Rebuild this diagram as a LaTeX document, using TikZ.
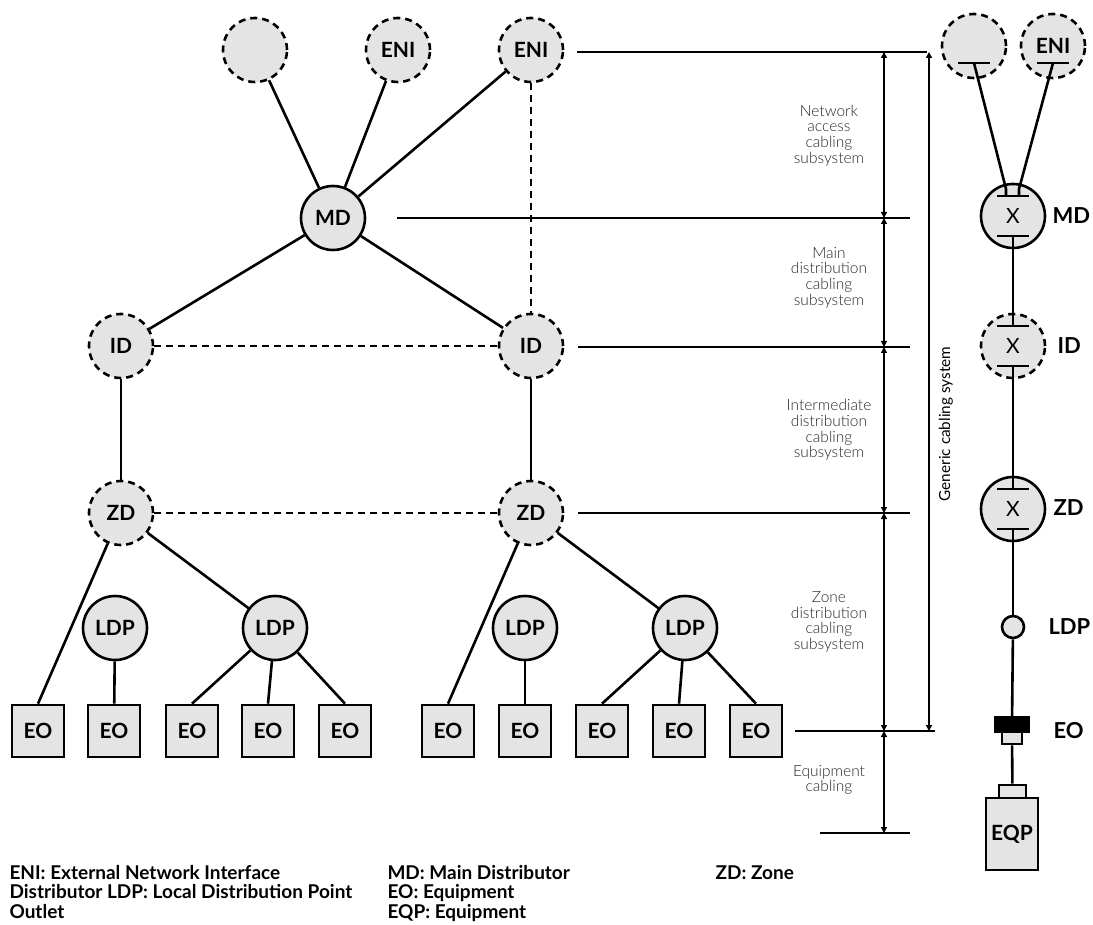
\documentclass[tikz,border=0pt]{standalone}
\usepackage{fontspec}
\setmainfont{Lato}
\newfontfamily\lightfont{Lato Light}
\usetikzlibrary{arrows.meta,calc}

\definecolor{boxgray}{HTML}{E3E4E3}
\definecolor{dimgray}{HTML}{262626}

\tikzset{
  dist/.style={circle, draw, line width=2.6pt, fill=boxgray, minimum size=64pt, inner sep=0pt,
               font=\bfseries\fontsize{21}{22}\selectfont},
  opt/.style={dist, dash pattern=on 7pt off 5pt},
  outlet/.style={draw, line width=2.6pt, fill=boxgray, minimum size=52pt, inner sep=0pt,
               font=\bfseries\fontsize{21}{22}\selectfont},
  link/.style={line width=2.6pt},
  optlink/.style={line width=2.6pt, dash pattern=on 7pt off 5pt},
  refline/.style={line width=1.4pt},
  bar/.style={line width=2.6pt},
  dimarrow/.style={line width=2pt, {Triangle[length=6pt,width=6pt]}-{Triangle[length=6pt,width=6pt]}},
  dimtext/.style={align=center, text=dimgray, font=\lightfont\fontsize{15.5}{15.7}\selectfont},
  sidetext/.style={anchor=west, font=\bfseries\fontsize{22}{24}\selectfont},
  legend/.style={anchor=base west, align=left, font=\bfseries\fontsize{19}{19.5}\selectfont},
}

\begin{document}
\begin{tikzpicture}[x=1pt, y=-1pt]
  \useasboundingbox (0,0) rectangle (1093,925);

  %distributors
  \node[opt] (ext) at (255,50) {};
  \node[opt] (eniA) at (398,50) {ENI};
  \node[opt] (eniB) at (531,50) {ENI};
  \node[dist] (md) at (333,218) {MD};
  \foreach \x/\name in {121/L, 531/R}{
    \node[opt] (id\name) at (\x,346) {ID};
    \node[opt] (zd\name) at (\x,513) {ZD};
  }
  \foreach \x/\name in {115/1, 275/2, 525/3, 685/4}{
    \node[dist] (ldp\name) at (\x,628) {LDP};
  }

  %outlets
  \foreach \x/\name in {38/1, 114/2, 192/3, 268/4, 345/5, 448/6, 525/7, 602/8, 679/9, 756/10}{
    \node[outlet] (eo\name) at (\x,731) {EO};
  }

  %cables
  \foreach \a/\b in {ext/md, eniA/md, eniB/md, md/idL, md/idR, idL/zdL, idR/zdR, zdL/ldp2, zdR/ldp4, ldp1/eo2, ldp3/eo7}{
    \draw[link] (\a) -- (\b);
  }
  \foreach \a/\b in {zdL/eo1, ldp2/eo3, ldp2/eo4, ldp2/eo5, zdR/eo6, ldp4/eo8, ldp4/eo9, ldp4/eo10}{
    \draw[link] (\a) -- (\b.north);
  }
  \draw[optlink] (eniB) -- (idR);
  \draw[optlink] (idL) -- (idR);
  \draw[optlink] (zdL) -- (zdR);

  %levels
  \foreach \x/\y/\xx in {577/52/927, 397/218/910, 578/347/910, 578/513/910, 795/731/935, 820/833/910}{
    \draw[refline] (\x,\y) -- (\xx,\y);
  }
  \foreach \y/\name in {52/0, 218/1, 347/2, 513/3, 731/4, 833/5}{
    \coordinate (lev\name) at (884,\y);
  }
  \foreach \a/\b in {0/1, 1/2, 2/3, 3/4, 4/5}{
    \draw[dimarrow] (lev\a) -- (lev\b);
  }
  \coordinate (genTop) at (929,52);
  \coordinate (genBot) at (929,731);
  \draw[dimarrow] (genTop) -- (genBot);

  \node[dimtext] (tNet) at (829,135.5) {Network\\access\\cabling\\subsystem};
  \node[dimtext] (tMain) at (829,277.5) {Main\\distribution\\cabling\\subsystem};
  \node[dimtext] (tInt) at (829,430) {Intermediate\\distribution\\cabling\\subsystem};
  \node[dimtext] (tZone) at (829,622) {Zone\\distribution\\cabling\\subsystem};
  \node[dimtext] (tEqp) at (829,780) {Equipment\\cabling};
  \node[rotate=90, font=\fontsize{15.3}{16}\selectfont] (tGen) at (946,424) {Generic cabling system};

  %channel
  \node[opt] (rExt) at (974,46) {};
  \node[opt] (rEni) at (1053,46) {ENI};
  \node[dist, font=\fontsize{21}{22}\selectfont] (rMD) at (1013,216) {X};
  \node[opt, font=\fontsize{21}{22}\selectfont] (rID) at (1013,346) {X};
  \node[dist, font=\fontsize{21}{22}\selectfont] (rZD) at (1013,509) {X};
  \node[circle, draw, line width=2.6pt, fill=boxgray, minimum size=22pt, inner sep=0pt] (rLDP) at (1013,627) {};
  \node[draw, line width=1.2pt, fill=black, minimum width=34pt, minimum height=15pt, inner sep=0pt] (rEO) at (1012,724.5) {};
  \node[draw, line width=2.6pt, fill=boxgray, minimum width=20pt, minimum height=12pt, inner sep=0pt] (rPlug) at (1012,738) {};
  \node[draw, line width=2.6pt, fill=boxgray, minimum width=27pt, minimum height=13pt, inner sep=0pt] (rEqPlug) at (1012.5,791.5) {};
  \node[outlet, minimum width=52pt, minimum height=72pt] (rEQP) at (1012,834) {EQP};

  \foreach \n in {rMD, rID, rZD}{
    \coordinate (\n-t) at ($(\n)+(0,-20)$);
    \coordinate (\n-b) at ($(\n)+(0,20)$);
    \draw[bar] ($(\n-t)+(-16,0)$) -- ($(\n-t)+(16,0)$);
    \draw[bar] ($(\n-b)+(-16,0)$) -- ($(\n-b)+(16,0)$);
  }
  \foreach \n in {rExt, rEni}{
    \coordinate (\n-b) at ($(\n)+(0,17)$);
    \draw[bar] ($(\n-b)+(-16,0)$) -- ($(\n-b)+(16,0)$);
  }
  \coordinate (rMD-tl) at ($(rMD-t)+(-7,0)$);
  \coordinate (rMD-tr) at ($(rMD-t)+(6,0)$);
  \draw[link] (rExt-b) -- ($(rMD-tl)+(0,-7)$) -- (rMD-tl);
  \draw[link] (rEni-b) -- ($(rMD-tr)+(0,-7)$) -- (rMD-tr);
  \draw[link] (rMD-b) -- (rID-t);
  \draw[link] (rID-b) -- (rZD-t);
  \draw[link] (rZD-b) -- (rLDP);
  \draw[link] (rLDP) -- (rEO);
  \draw[link] (rPlug) -- (rEqPlug);

  \node[sidetext] (lMD) at (1049,216) {MD};
  \node[sidetext] (lID) at (1054,346) {ID};
  \node[sidetext] (lZD) at (1050,508) {ZD};
  \node[sidetext] (lLDP) at (1045,627) {LDP};
  \node[sidetext] (lEO) at (1050,731) {EO};

  %legend
  \node[legend] (key1) at (6,918) {ENI: External Network Interface\\Distributor LDP: Local Distribution Point\\Outlet};
  \node[legend] (key2) at (384,918) {MD: Main Distributor\\EO: Equipment\\EQP: Equipment};
  \node[legend] (key3) at (712,879) {ZD: Zone};
\end{tikzpicture}
\end{document}
